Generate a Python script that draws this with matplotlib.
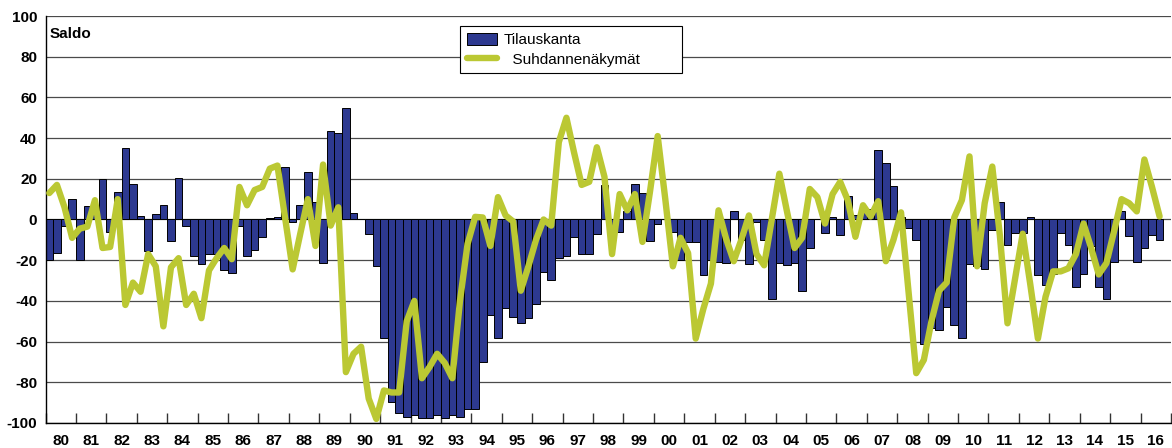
import numpy as np
import matplotlib
matplotlib.use('Agg')
import matplotlib.pyplot as plt

# quarterly saldo figures, 1980 Q1 - 2016 Q3
years = ['80', '81', '82', '83', '84', '85', '86', '87', '88', '89',
         '90', '91', '92', '93', '94', '95', '96', '97', '98', '99',
         '00', '01', '02', '03', '04', '05', '06', '07', '08', '09',
         '10', '11', '12', '13', '14', '15', '16']

tilauskanta = [
  -20, -16.5, -3, 10,        # 80
  -20, 6.5, 4, 20,           # 81
  -6, 13.5, 35, 17.5,        # 82
  1.5, -15.5, 2.5, 7,        # 83
  -10.5, 20.5, -3, -18,      # 84
  -22, -17, -17, -25,        # 85
  -26.5, -3, -18, -15,       # 86
  -8.5, 0.5, 1, 26,          # 87
  -1, 7, 23.5, 8.5,          # 88
  -21.5, 43.5, 42.5, 55,     # 89
  3, 0, -7, -23,             # 90
  -58, -89.5, -95, -97,      # 91
  -96, -97.5, -97.5, -96,    # 92
  -97.5, -96, -97, -93,      # 93
  -93, -70, -47, -58,        # 94
  -43.5, -48, -51, -48.5,    # 95
  -41.5, -26, -29.5, -19,    # 96
  -18, -8.5, -17, -17,       # 97
  -7, 17, -5, -6,            # 98
  4, 17.5, 13, -10.5,        # 99
  -2, 0, -6, -20,            # 00
  -11, -11, -27.5, -20,      # 01
  -21, -21.5, 4, -10,        # 02
  -22, -1, -10, -39,         # 03
  -21.5, -22.5, -21.5, -35,  # 04
  -14, 0, -6.5, 1,           # 05
  -7.5, 11.5, 2, 4,          # 06
  5, 34, 28, 16.5,           # 07
  1, -4, -10, -61,           # 08
  -53.5, -54.5, -43, -52,    # 09
  -58, -22, -23, -24.5,      # 10
  -5, 8.5, -12.5, -6.5,      # 11
  -6.5, 1, -27.5, -32,       # 12
  -27, -6.5, -12.5, -33,     # 13
  -27, -13, -33, -39,        # 14
  -21, 4, -8, -21,           # 15
  -14, -7.5, -10,            # 16
]

suhdannenakymat = [
  13, 17, 6, -9,             # 80
  -4.5, -3.5, 9.5, -14,      # 81
  -13.5, 10, -42, -31,       # 82
  -35.5, -17, -23, -52.5,    # 83
  -23.5, -19, -42, -36.5,    # 84
  -48.5, -25, -19, -14,      # 85
  -19.5, 16, 7, 14.5,        # 86
  16, 25, 26.5, 1,           # 87
  -24.5, -7, 10, -13,        # 88
  27, -3, 6, -75,            # 89
  -66, -62.5, -88, -98,      # 90
  -84, -85, -85, -50,        # 91
  -40, -78, -72.5, -66,      # 92
  -70.5, -78, -40, -12,      # 93
  1.3, 1, -13, 11,           # 94
  2, -1, -35, -23,           # 95
  -10, 0, -3, 38,            # 96
  50, 33, 17, 18.5,          # 97
  35.5, 21, -17, 12.5,       # 98
  4.5, 12.5, -11, 14,        # 99
  41, 10, -23, -9,           # 00
  -16.5, -58.5, -44, -31.5,  # 01
  4.5, -9.5, -20.5, -10,     # 02
  2, -17, -22.5, 0,          # 03
  22.5, 4, -14, -9,          # 04
  15, 11, -2, 12.5,          # 05
  18.5, 9.5, -8.5, 7,        # 06
  1.5, 9, -20.5, -10,        # 07
  3.5, -36, -75.5, -69,      # 08
  -50, -35, -31, 1,          # 09
  9.5, 31, -23, 8,           # 10
  26, -8, -51, -29,          # 11
  -7, -32, -58.5, -38,       # 12
  -25.5, -25.5, -24, -17,    # 13
  -2, -14, -27, -21.5,       # 14
  -6, 10, 8, 4,              # 15
  29.5, 16, 1.5,             # 16
]

bar_color = '#2D3990'
line_color = '#BBC833'
font_size = 11

plt.rcParams['font.family'] = ['Liberation Sans', 'DejaVu Sans']

fig = plt.figure(figsize=(11.72, 4.48), dpi=100)
ax = fig.add_axes([45.5/1172, 25/448, 1125.5/1172, 407/448])

x = np.arange(len(tilauskanta)) + 0.5
bars = ax.bar(x, tilauskanta, width=1.0, color=bar_color, edgecolor='black', linewidth=0.7,
              label='Tilauskanta', zorder=2)
line, = ax.plot(x, suhdannenakymat, color=line_color, lw=4.6, solid_capstyle='round',
                solid_joinstyle='round', label='  Suhdannenäkymät', zorder=3)

n_years = len(years)
ax.set_xlim(0, 4*n_years)
ax.set_ylim(-100, 100)

ax.set_yticks(np.arange(-100, 101, 20))
ax.set_yticklabels([f'{v}' for v in range(-100, 101, 20)], fontsize=font_size, fontweight='bold')
ax.yaxis.grid(True, color='#4a4a4a', lw=0.9)
ax.set_axisbelow(True)
ax.tick_params(axis='y', length=0, pad=6)

# year boundaries get tick marks, year names sit between them
ax.set_xticks(np.arange(0, 4*n_years + 1, 4))
ax.set_xticklabels([])
ax.set_xticks(np.arange(2, 4*n_years, 4), minor=True)
ax.set_xticklabels(years, minor=True, fontsize=font_size, fontweight='bold')
ax.tick_params(axis='x', which='major', direction='in', length=7, width=1, color='#333333')
ax.tick_params(axis='x', which='minor', length=0, pad=8)

for side in ['top', 'right']:
  ax.spines[side].set_visible(False)
for side in ['left', 'bottom']:
  ax.spines[side].set_linewidth(1.0)
  ax.spines[side].set_color('black')

ax.text(0.004, 0.956, 'Saldo', transform=ax.transAxes, fontsize=font_size,
        fontweight='bold', ha='left', va='center')

# legend box stretched to a fixed width
leg_x0 = (460 - 45.5) / 1125.5
leg_w = (682 - 460) / 1125.5
leg_top = (423 - 26) / 407
leg = ax.legend([bars, line], ['Tilauskanta', '  Suhdannenäkymät'],
                loc='upper left', bbox_to_anchor=(leg_x0, leg_top - 0.2, leg_w, 0.2),
                mode='expand', borderaxespad=0,
                fontsize=font_size, frameon=True, fancybox=False, framealpha=1,
                edgecolor='black', handlelength=2.0, handleheight=0.8,
                labelspacing=0.35, borderpad=0.45, handletextpad=0.4)
leg.get_frame().set_linewidth(0.8)

fig.savefig('out.png', dpi=100)
